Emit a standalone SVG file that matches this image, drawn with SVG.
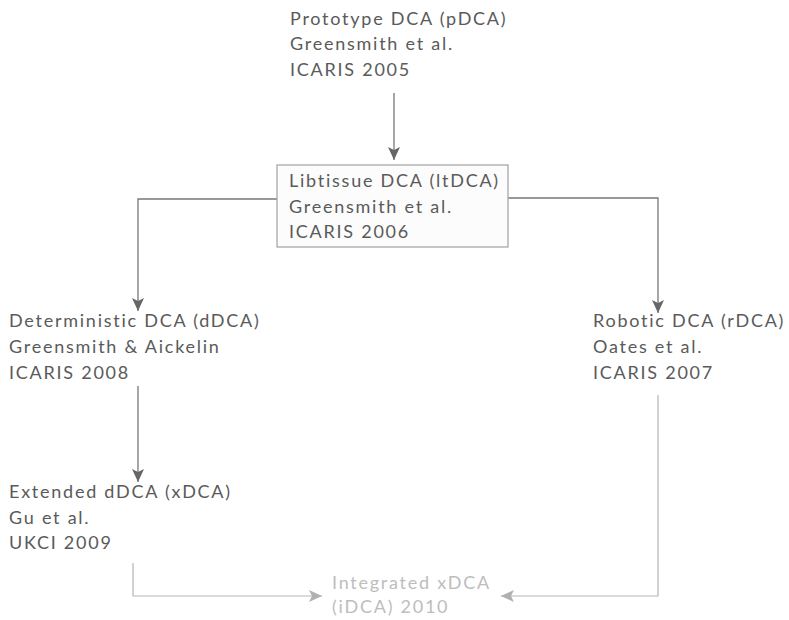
<svg xmlns="http://www.w3.org/2000/svg" width="789" height="620" viewBox="0 0 789 620">
<defs>
<style>
.t{font-family:Lato,"Open Sans","Liberation Sans",sans-serif;font-size:18px;letter-spacing:1.75px;fill:#5a5a5a}
.f{fill:#bdbdbd}
.c{fill:none;stroke:#777;stroke-width:1.3}
.cl{fill:none;stroke:#b5b5b5;stroke-width:1.2}
.box{fill:#fcfcfc;stroke:#a8a8a8;stroke-width:1.3}
</style>
<marker id="ah" markerUnits="userSpaceOnUse" markerWidth="14" markerHeight="12" viewBox="0 0 14 12" refX="13" refY="6" orient="auto">
<path d="M0,0 L13,6 L0,12 L3,6 z" fill="#666"/>
</marker>
<marker id="ahl" markerUnits="userSpaceOnUse" markerWidth="14" markerHeight="12" viewBox="0 0 14 12" refX="13" refY="6" orient="auto">
<path d="M0,0 L13,6 L0,12 L3,6 z" fill="#b0b0b0"/>
</marker>
</defs>
<rect width="789" height="620" fill="#ffffff"/>
<g id="connectors">
<path class="c" d="M394,93 V160" marker-end="url(#ah)"/>
<path class="c" d="M277,199 H138 V311" marker-end="url(#ah)"/>
<path class="c" d="M508,198 H658 V313" marker-end="url(#ah)"/>
<path class="c" d="M138,386 V482" marker-end="url(#ah)"/>
<path class="cl" d="M133,563 V596 H322" marker-end="url(#ahl)"/>
<path class="cl" d="M658,395 V596 H501" marker-end="url(#ahl)"/>
</g>
<g id="pDCA">
<text class="t" x="290" y="25">Prototype DCA (pDCA)</text>
<text class="t" x="290" y="50">Greensmith et al.</text>
<text class="t" x="290" y="76">ICARIS 2005</text>
</g>
<g id="ltDCA">
<rect class="box" x="277" y="165" width="231" height="82"/>
<text class="t" x="289" y="187">Libtissue DCA (ltDCA)</text>
<text class="t" x="289" y="213">Greensmith et al.</text>
<text class="t" x="289" y="238">ICARIS 2006</text>
</g>
<g id="dDCA">
<text class="t" x="9" y="327">Deterministic DCA (dDCA)</text>
<text class="t" x="9" y="353">Greensmith &amp; Aickelin</text>
<text class="t" x="9" y="379">ICARIS 2008</text>
</g>
<g id="rDCA">
<text class="t" x="593" y="327">Robotic DCA (rDCA)</text>
<text class="t" x="593" y="353">Oates et al.</text>
<text class="t" x="593" y="379">ICARIS 2007</text>
</g>
<g id="xDCA">
<text class="t" x="9" y="498">Extended dDCA (xDCA)</text>
<text class="t" x="9" y="524">Gu et al.</text>
<text class="t" x="9" y="549">UKCI 2009</text>
</g>
<g id="iDCA">
<text class="t f" x="332" y="589">Integrated xDCA</text>
<text class="t f" x="332" y="613">(iDCA) 2010</text>
</g>
</svg>
